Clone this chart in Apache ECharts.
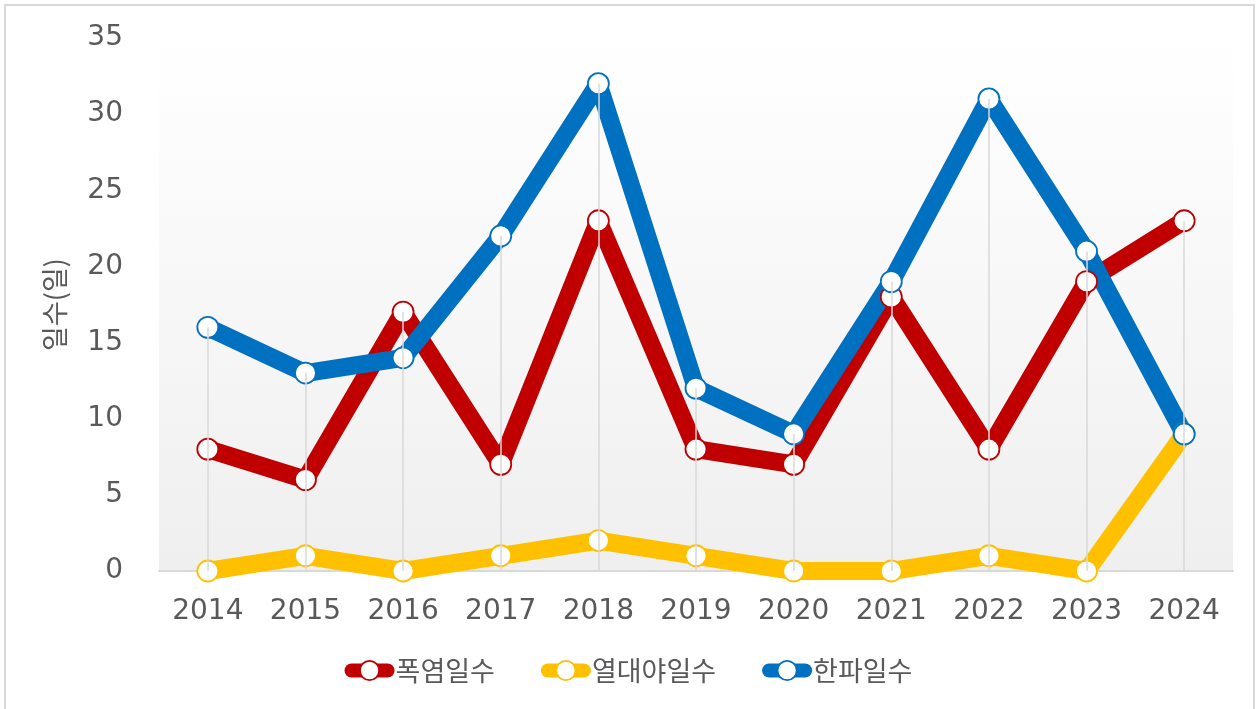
<!DOCTYPE html>
<html>
<head>
<meta charset="utf-8">
<script src="https://cdn.jsdelivr.net/npm/echarts@6/dist/echarts.min.js"></script>
<style>
  html, body { margin: 0; padding: 0; background: #fff; }
  #frame {
    position: absolute; left: 4px; top: 4px; width: 1251px; height: 720px;
    border: 2px solid #d9d9d9; box-sizing: border-box;
  }
  #chart { position: absolute; left: 0; top: 0; width: 1257px; height: 709px; }
</style>
</head>
<body>
<div id="frame"></div>
<div id="chart"></div>
<script>
const years = ['2014', '2015', '2016', '2017', '2018', '2019', '2020', '2021', '2022', '2023', '2024'];
const heatDays = [8, 6, 17, 7, 23, 8, 7, 18, 8, 19, 23];
const tropicalNights = [0, 1, 0, 1, 2, 1, 0, 0, 1, 0, 9];
const coldDays = [16, 13, 14, 22, 32, 12, 9, 19, 31, 21, 9];

const font = '"DejaVu Sans", "Noto Sans CJK KR", sans-serif';
const hangulFont = '"Noto Sans CJK KR", sans-serif';
const textColor = '#595959';

// drop lines from the highest point of each year down to the axis
const dropLines = years.map(function(year, i) {
  const top = Math.max(heatDays[i], tropicalNights[i], coldDays[i]);
  return [{ coord: [year, 0] }, { coord: [year, top] }];
});

function lineSeries(name, values, color) {
  return {
    name: name,
    type: 'line',
    data: values,
    z: 3,
    symbol: 'circle',
    symbolSize: 21,
    lineStyle: { color: color, width: 18, join: 'round', cap: 'round' },
    itemStyle: { color: '#fff', borderColor: color, borderWidth: 1.8 },
    emphasis: { disabled: true },
    animation: false
  };
}

const chart = echarts.init(document.getElementById('chart'), null, { renderer: 'canvas' });
chart.setOption({
  animation: false,
  grid: {
    left: 159, right: 24, top: 38, bottom: 138,
    show: true, borderWidth: 0,
    backgroundColor: new echarts.graphic.LinearGradient(0, 0, 0, 1, [
      { offset: 0, color: '#ffffff' },
      { offset: 1, color: '#efefef' }
    ])
  },
  legend: {
    bottom: 20,
    left: 'center',
    itemWidth: 36,
    itemHeight: 24,
    itemGap: 46,
    lineStyle: { width: 14, cap: 'round' },
    itemStyle: { borderWidth: 1.8 },
    textStyle: { fontFamily: hangulFont, fontSize: 27, color: textColor, padding: [0, 0, 0, 3] },
    data: ['폭염일수', '열대야일수', '한파일수']
  },
  xAxis: {
    type: 'category',
    data: years,
    boundaryGap: true,
    axisLine: { lineStyle: { color: '#d9d9d9', width: 2 } },
    axisTick: { show: false },
    splitLine: { show: false },
    axisLabel: { fontFamily: font, fontSize: 28, color: textColor, margin: 27 }
  },
  yAxis: {
    type: 'value',
    min: 0,
    max: 35,
    interval: 5,
    name: '일수(일)',
    nameLocation: 'middle',
    nameGap: 91,
    nameTextStyle: { fontFamily: hangulFont, fontSize: 27, color: textColor },
    axisLine: { show: false },
    axisTick: { show: false },
    splitLine: { show: false },
    axisLabel: { fontFamily: font, fontSize: 28, color: textColor, margin: 36, padding: [5, 0, 0, 0] }
  },
  series: [
    {
      name: 'drop',
      type: 'line',
      data: [],
      z: 1,
      silent: true,
      markLine: {
        silent: true,
        symbol: 'none',
        label: { show: false },
        lineStyle: { color: '#d9d9d9', width: 1.5, type: 'solid' },
        data: dropLines
      }
    },
    lineSeries('폭염일수', heatDays, '#c00000'),
    lineSeries('열대야일수', tropicalNights, '#ffc000'),
    lineSeries('한파일수', coldDays, '#0070c0')
  ]
});
</script>
</body>
</html>
